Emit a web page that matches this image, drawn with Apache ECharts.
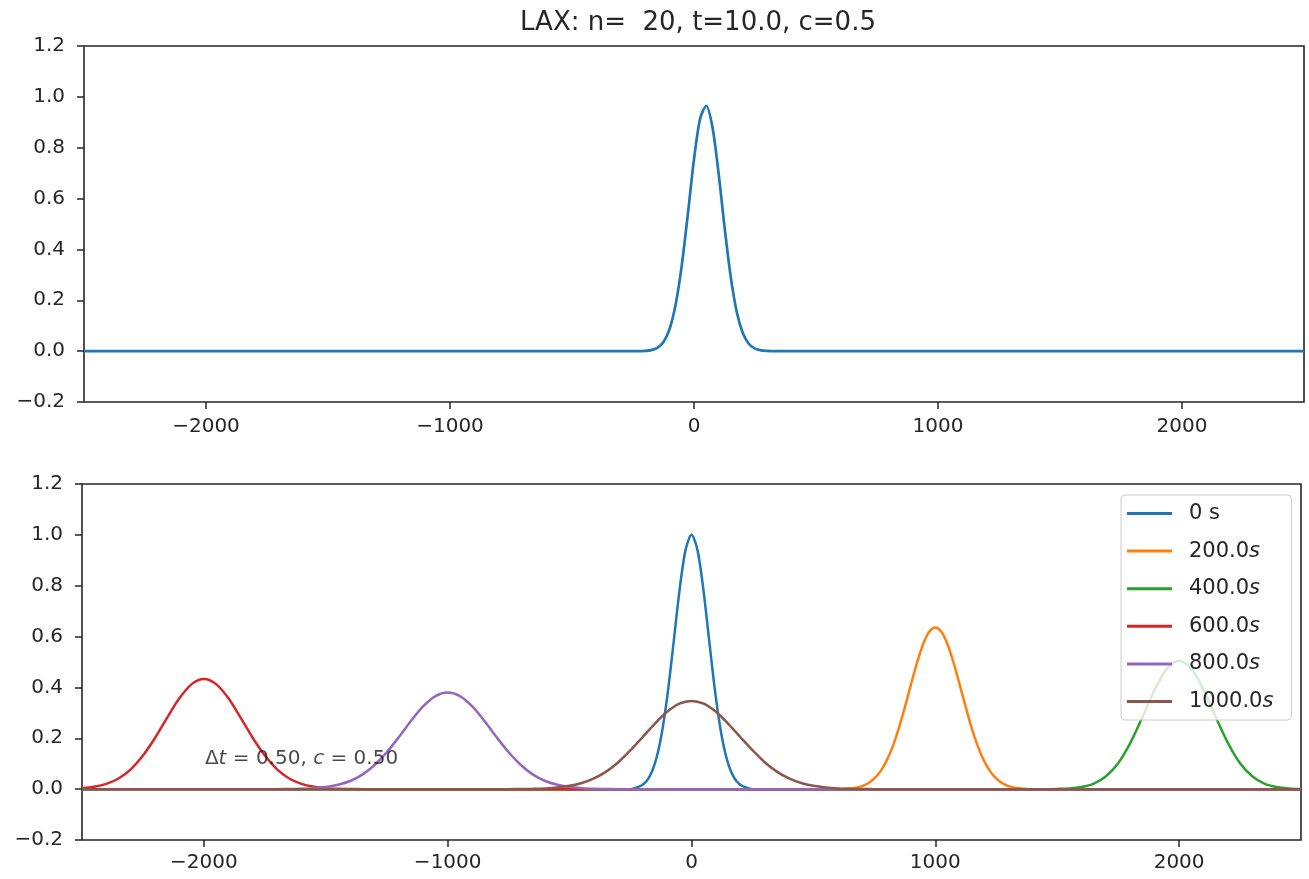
<!DOCTYPE html>
<html>
<head>
<meta charset="utf-8">
<script src="https://cdn.jsdelivr.net/npm/echarts@6/dist/echarts.min.js"></script>
<style>html,body{margin:0;padding:0;background:#fff;}#c{width:1309px;height:879px;}</style>
</head>
<body>
<div id="c"></div>
<script>
// ---- data ----
const titleText = 'LAX: n=  20, t=10.0, c=0.5';
const xTicks = [-2000, -1000, 0, 1000, 2000];
const xMin = -2500, xMax = 2500;
const yMin = -0.2, yMax = 1.2, yStep = 0.2;

// top panel: current solution
const topX = [-2500, -250, -225, -200, -175, -150, -125, -100, -75, -50, -25, 0, 25, 50, 75, 100, 125, 150, 175, 200, 225, 250, 275, 300, 325, 2500];
const topY = [0, 0, 0.0003, 0.0011, 0.004, 0.013, 0.036, 0.087, 0.184, 0.338, 0.541, 0.754, 0.914, 0.964, 0.884, 0.706, 0.49, 0.296, 0.155, 0.071, 0.028, 0.01, 0.003, 0.0008, 0, 0];

// bottom panel: snapshots
const seriesNames = ['0 s', '200.0s', '400.0s', '600.0s', '800.0s', '1000.0s'];
const b0X = [-2500, -250, -225, -200, -175, -150, -125, -100, -75, -50, -25, 0, 25, 50, 75, 100, 125, 150, 175, 200, 225, 250, 2500];
const b0Y = [0, 0, 0.006, 0.017, 0.044, 0.101, 0.203, 0.36, 0.563, 0.775, 0.938, 1.0, 0.938, 0.775, 0.563, 0.36, 0.203, 0.101, 0.044, 0.017, 0.006, 0, 0];
const b1X = [-2500, 600, 625, 650, 675, 700, 725, 750, 775, 800, 825, 850, 875, 900, 925, 950, 975, 1000, 1025, 1050, 1075, 1100, 1125, 1150, 1175, 1200, 1225, 1250, 1275, 1300, 1325, 1350, 1375, 1400, 2500];
const b1Y = [0, 0, 0.001, 0.003, 0.006, 0.012, 0.023, 0.042, 0.070, 0.111, 0.167, 0.238, 0.322, 0.411, 0.497, 0.570, 0.619, 0.636, 0.619, 0.570, 0.497, 0.411, 0.322, 0.238, 0.167, 0.111, 0.070, 0.042, 0.023, 0.012, 0.006, 0.003, 0.001, 0, 0];
const b2X = [-2500, 1450, 1500, 1550, 1600, 1650, 1700, 1750, 1800, 1850, 1900, 1950, 2000, 2050, 2100, 2150, 2200, 2250, 2300, 2350, 2400, 2450, 2500];
const b2Y = [0, 0, 0.001, 0.003, 0.0085, 0.022, 0.051, 0.102, 0.182, 0.284, 0.391, 0.474, 0.505, 0.474, 0.391, 0.284, 0.182, 0.102, 0.051, 0.022, 0.0085, 0.003, 0.001];
const b3X = [-2500, -2450, -2400, -2350, -2300, -2250, -2200, -2150, -2100, -2050, -2000, -1950, -1900, -1850, -1800, -1750, -1700, -1650, -1600, -1550, -1500, -1450, -1400, -1350, 2500];
const b3Y = [0.0037, 0.009, 0.0205, 0.042, 0.078, 0.132, 0.202, 0.282, 0.358, 0.413, 0.433, 0.413, 0.358, 0.282, 0.202, 0.132, 0.078, 0.042, 0.0205, 0.009, 0.0037, 0.0014, 0.0005, 0, 0];
const b4X = [-2500, -1700, -1650, -1600, -1550, -1500, -1450, -1400, -1350, -1300, -1250, -1200, -1150, -1100, -1050, -1000, -950, -900, -850, -800, -750, -700, -650, -600, -550, -500, -450, -400, -350, -300, 2500];
const b4Y = [0, 0, 0.0005, 0.0015, 0.0036, 0.008, 0.017, 0.032, 0.057, 0.095, 0.145, 0.205, 0.269, 0.326, 0.366, 0.38, 0.366, 0.326, 0.269, 0.205, 0.145, 0.095, 0.057, 0.032, 0.017, 0.008, 0.0036, 0.0015, 0.0005, 0, 0];
const b5X = [-2500, -750, -700, -650, -600, -550, -500, -450, -400, -350, -300, -250, -200, -150, -100, -50, 0, 50, 100, 150, 200, 250, 300, 350, 400, 450, 500, 550, 600, 650, 700, 750, 2500];
const b5Y = [0, 0, 0.0005, 0.0013, 0.003, 0.0065, 0.013, 0.024, 0.042, 0.069, 0.106, 0.153, 0.205, 0.258, 0.304, 0.336, 0.347, 0.336, 0.304, 0.258, 0.205, 0.153, 0.106, 0.069, 0.042, 0.024, 0.013, 0.0065, 0.003, 0.0013, 0.0005, 0, 0];
const annotPos = [-2000, 0.1];

// ---- chart ----
const colors = ['#1f77b4', '#ff7f0e', '#2ca02c', '#d62728', '#9467bd', '#8c564b'];
const FONT = 'DejaVu Sans';
const TXT = '#262626';
const minus = s => String(s).replace('-', '\u2212');
const zip = (xs, ys) => xs.map((x, i) => [x, ys[i]]);
const bottomX = [b0X, b1X, b2X, b3X, b4X, b5X];
const bottomY = [b0Y, b1Y, b2Y, b3Y, b4Y, b5Y];

function xAxis(gi) {
  return {
    type: 'value', gridIndex: gi, min: xMin, max: xMax,
    axisLine: { show: false, onZero: false },
    splitLine: { show: false },
    axisTick: { show: true, customValues: xTicks, length: 7, lineStyle: { color: TXT, width: 1.5 } },
    axisLabel: { customValues: xTicks, margin: gi === 0 ? 15 : 13, color: TXT, fontFamily: FONT, fontSize: 20, formatter: v => minus(v) }
  };
}
function yAxis(gi) {
  return {
    type: 'value', gridIndex: gi, min: yMin, max: yMax, interval: yStep,
    axisLine: { show: false, onZero: false },
    splitLine: { show: false },
    axisTick: { show: true, length: 7, lineStyle: { color: TXT, width: 1.5 } },
    axisLabel: { margin: 19, color: TXT, fontFamily: FONT, fontSize: 20, formatter: v => minus(v.toFixed(1)) }
  };
}

const series = [{
  type: 'line', xAxisIndex: 0, yAxisIndex: 0, data: zip(topX, topY),
  showSymbol: false, smooth: 0.3, lineStyle: { color: colors[0], width: 2.7 }, itemStyle: { color: colors[0] }
}];
seriesNames.forEach((name, i) => {
  series.push({
    name, type: 'line', xAxisIndex: 1, yAxisIndex: 1, data: zip(bottomX[i], bottomY[i]),
    showSymbol: false, smooth: 0.3, lineStyle: { color: colors[i], width: 2.5 }, itemStyle: { color: colors[i] }
  });
});
series.push({
  type: 'scatter', xAxisIndex: 1, yAxisIndex: 1, data: [annotPos], symbolSize: 0, silent: true, z: 10,
  label: {
    show: true, position: [0, 0], offset: [1, 5], align: 'left', verticalAlign: 'bottom',
    formatter: '{n|\u0394}{i|t}{n| = 0.50, }{i|c}{n| = 0.50}',
    rich: {
      n: { fontFamily: FONT, fontSize: 20, color: '#1a1a1a' },
      i: { fontFamily: FONT, fontSize: 20, fontStyle: 'italic', color: '#1a1a1a' }
    }
  }
});

const chart = echarts.init(document.getElementById('c'), null, { renderer: 'canvas' });
chart.setOption({
  animation: false,
  backgroundColor: '#fff',
  title: {
    text: titleText, left: 693, top: 5, textAlign: 'center',
    textStyle: { fontFamily: FONT, fontSize: 26, fontWeight: 'normal', color: TXT }
  },
  grid: [
    { left: 84, top: 46, width: 1220, height: 356, show: true, borderColor: TXT, borderWidth: 1.6, backgroundColor: 'transparent' },
    { left: 82, top: 484, width: 1219, height: 356, show: true, borderColor: TXT, borderWidth: 1.6, backgroundColor: 'transparent' }
  ],
  xAxis: [xAxis(0), xAxis(1)],
  yAxis: [yAxis(0), yAxis(1)],
  legend: {
    data: seriesNames, orient: 'vertical', left: 1121, top: 495,
    icon: 'rect', itemWidth: 45, itemHeight: 3, itemGap: 16.6,
    padding: [8, 18, 8, 6],
    backgroundColor: 'rgba(255,255,255,0.8)', borderColor: '#cccccc', borderWidth: 1, borderRadius: 4,
    formatter: name => name === '0 s' ? '{n|0 s}' : '{n|' + name.slice(0, -1) + '}{i|s}',
    textStyle: {
      padding: [0, 0, 0, 12],
      rich: {
        n: { fontFamily: FONT, fontSize: 21, lineHeight: 22, color: TXT },
        i: { fontFamily: FONT, fontSize: 21, lineHeight: 22, fontStyle: 'italic', color: TXT }
      }
    }
  },
  series
});
</script>
</body>
</html>
